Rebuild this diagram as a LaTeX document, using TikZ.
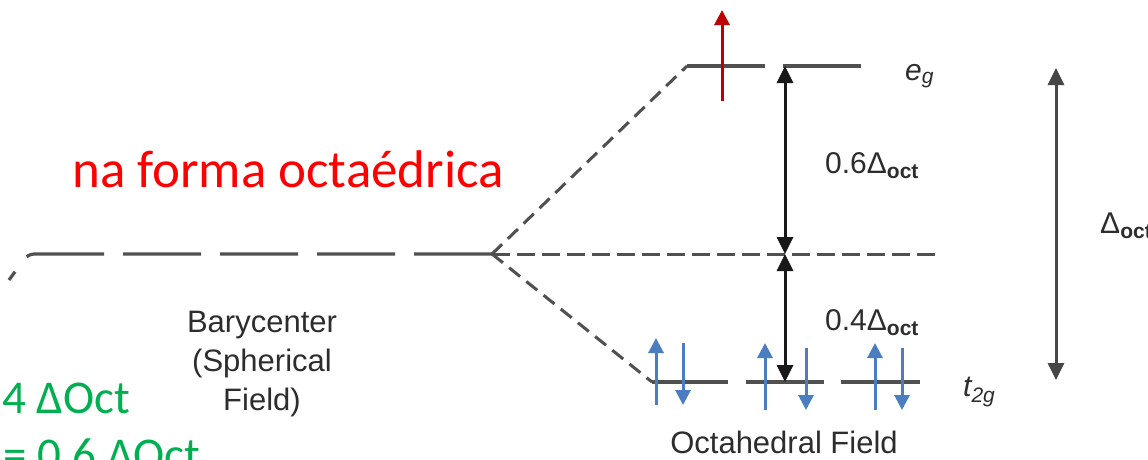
\documentclass[tikz,border=0pt]{standalone}
\usepackage{fontspec}
\setmainfont{Liberation Sans}
\newfontfamily\notefont{Carlito}
\usetikzlibrary{arrows.meta,positioning}
\definecolor{levelgrey}{RGB}{80,80,80}
\definecolor{gapblack}{RGB}{25,25,25}
\definecolor{totalgrey}{RGB}{70,70,70}
\definecolor{spinblue}{RGB}{74,126,193}
\definecolor{spinred}{RGB}{192,0,0}
\definecolor{notered}{RGB}{255,0,0}
\definecolor{notegreen}{RGB}{0,176,80}
\definecolor{textgrey}{RGB}{45,45,45}
\tikzset{
  orbital/.style={draw=levelgrey,line width=3.2pt},
  longdash/.style={draw=levelgrey,line width=3.2pt,
    dash pattern=on 78pt off 19pt,rounded corners=6pt},
  slopedash/.style={draw=levelgrey,line width=3pt,dash pattern=on 14pt off 8pt},
  middash/.style={draw=levelgrey,line width=3pt,dash pattern=on 18pt off 7pt},
  gaparrow/.style={{Triangle[length=17pt,width=16pt]}-{Triangle[length=17pt,width=16pt]},
    draw=gapblack,line width=3pt},
  totalarrow/.style={gaparrow,draw=totalgrey},
  spin/.style={-{Triangle[length=15pt,width=15pt]},draw=spinblue,line width=3pt},
  redspin/.style={spin,draw=spinred},
  diagtext/.style={text=textgrey,inner sep=0pt,font=\fontsize{31}{39}\selectfont},
  energytext/.style={diagtext,font=\fontsize{30}{36}\selectfont},
  rednote/.style={text=notered,inner sep=0pt,font=\notefont\fontsize{53}{64}\selectfont},
  greennote/.style={text=notegreen,inner sep=0pt,font=\notefont\fontsize{47}{57}\selectfont}
}

\begin{document}
\begin{tikzpicture}[x=1pt,y=-1pt]
  \useasboundingbox[fill=white] (0,0) rectangle (1148,459);
  % levels
  \coordinate (bary) at (492,254);
  \coordinate (baryL) at (28,254);
  \coordinate (baryS) at (9,280);
  \coordinate (baryR) at (940,254);
  \coordinate (egA) at (687,66);
  \coordinate (egB) at (765,66);
  \coordinate (egC) at (783,66);
  \coordinate (egD) at (861,66);
  \coordinate (t2A) at (652,382);
  \coordinate (t2B) at (728,382);
  \coordinate (t2C) at (746,382);
  \coordinate (t2D) at (824,382);
  \coordinate (t2E) at (841,382);
  \coordinate (t2F) at (920,382);
  \draw[longdash] (bary) -- (baryL) -- (baryS);
  \draw[slopedash] (bary) -- (egA);
  \draw[slopedash] (bary) -- (t2A);
  \draw[middash] (bary) -- (baryR);
  \draw[orbital] (egA) -- (egB);
  \draw[orbital] (egC) -- (egD);
  \draw[orbital] (t2A) -- (t2B);
  \draw[orbital] (t2C) -- (t2D);
  \draw[orbital] (t2E) -- (t2F);
  % splitting arrows
  \coordinate (gapTop) at (785,66);
  \coordinate (gapMid) at (785,254);
  \coordinate (gapBot) at (785,382);
  \coordinate (totTop) at (1056,68);
  \coordinate (totBot) at (1056,380);
  \draw[gaparrow] (gapMid) -- (gapTop);
  \draw[gaparrow] (gapMid) -- (gapBot);
  \draw[totalarrow] (totTop) -- (totBot);
  % electrons
  \coordinate (redTail) at (722,101);
  \coordinate (redHead) at (722,10);
  \draw[redspin] (redTail) -- (redHead);
  \foreach \ux/\dx/\yb [count=\n] in {656/683/405,765/806/410,875/902/410}{
    \coordinate (upTail\n) at (\ux,\yb);
    \coordinate (upHead\n) at (\ux,\yb-67);
    \coordinate (dnTail\n) at (\dx,\yb-62);
    \coordinate (dnHead\n) at (\dx,\yb);
    \draw[spin] (upTail\n) -- (upHead\n);
    \draw[spin] (dnTail\n) -- (dnHead\n);
  }
  % labels
  \node[energytext,anchor=base west] (eg) at (905,80) {\itshape e\textsubscript{g}};
  \node[energytext,anchor=base west] (t2g) at (963,396) {\itshape t\textsubscript{2g}};
  \node[energytext,anchor=base west] (upper) at (825,173) {0.6Δ\textsubscript{\bfseries oct}};
  \node[energytext,anchor=base west] (lower) at (825,330) {0.4Δ\textsubscript{\bfseries oct}};
  \node[energytext,anchor=base west] (total) at (1100,233) {Δ\textsubscript{\bfseries oct}};
  \node[diagtext,align=center,anchor=base] (sph) at (262,410) {Barycenter\\(Spherical\\Field)};
  \node[diagtext,anchor=base] (oct) at (784,453) {Octahedral Field};
  \node[rednote,anchor=base west] (shape) at (72,187) {na forma octaédrica};
  \node[greennote,anchor=base west] (lowgap) at (2,413) {4 ΔOct};
  \node[greennote,anchor=base west] (highgap) at (3,470) {= 0.6 ΔOct};
\end{tikzpicture}
\end{document}
